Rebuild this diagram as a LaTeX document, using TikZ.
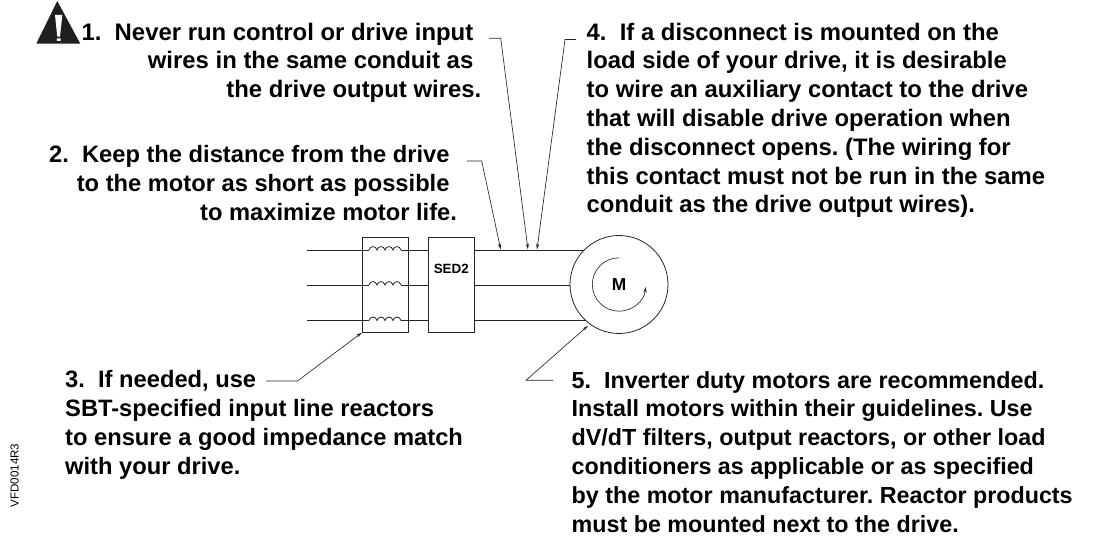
\documentclass[tikz,border=0pt]{standalone}
\usepackage{fontspec}
\setmainfont{Liberation Sans}
\usetikzlibrary{arrows.meta}
\frenchspacing
\tikzset{
  txt/.style={inner sep=0pt,font=\fontsize{#1}{28.8}\selectfont\bfseries},
  wire/.style={line width=0.8pt,black!85},
  box/.style={draw,line width=0.8pt,black!85,fill=none,inner sep=0pt},
  lead/.style={line width=0.65pt,black!85,-{Stealth[length=6pt,width=3.2pt]}}
}
\newcommand{\coilpath}[1]{(369,#1) .. controls (370,#1-4.5) and (376,#1-4.5) .. (377,#1) .. controls (378,#1-4.5) and (384,#1-4.5) .. (385,#1) .. controls (386,#1-4.5) and (392,#1-4.5) .. (393,#1) .. controls (394,#1-4.5) and (400,#1-4.5) .. (401,#1)}
\begin{document}
\begin{tikzpicture}[x=1pt,y=-1pt]
\useasboundingbox (0,0) rectangle (1095,537);
% warning triangle
\fill[black!88] (57.3,1) -- (36.3,43.7) -- (80.3,43.7) -- cycle;
\fill[white] (55,15) -- (62.3,15) -- (60,36.7) -- (57.3,36.7) -- cycle (56.8,38.3) rectangle (60.5,41);
% texts
\node[txt=23.9,align=right,anchor=north east] (t1) at (473.5,22.6) {1.\ \ Never run control or drive input\\wires in the same conduit as\\the drive output wires.\hspace*{-8pt}};
\node[txt=23.7,align=right,anchor=north east] (t2) at (449.7,145.6) {2.\ \ Keep the distance from the drive\\to the motor as short as possible\\to maximize motor life.\hspace*{-7.5pt}};
\node[txt=23.85,align=left,anchor=north west] (t4) at (586.5,22.6) {4.\ \ If a disconnect is mounted on the\\load side of your drive, it is desirable\\to wire an auxiliary contact to the drive\\that will disable drive operation when\\the disconnect opens. (The wiring for\\this contact must not be run in the same\\conduit as the drive output wires).};
\node[txt=23.7,align=left,anchor=north west] (t3) at (65,370.3) {3.\ \ If needed, use\\SBT-specified input line reactors\\to ensure a good impedance match\\with your drive.};
\node[txt=23.3,align=left,anchor=north west] (t5) at (571.5,371) {5.\ \ Inverter duty motors are recommended.\\Install motors within their guidelines. Use\\dV/dT filters, output reactors, or other load\\conditioners as applicable or as specified\\by the motor manufacturer. Reactor products\\must be mounted next to the drive.};
\node[rotate=90,inner sep=0pt,font=\fontsize{11.6}{13}\selectfont] (vfd) at (14.7,475.5) {VFD0014R3};
% boxes
\node[box,minimum width=46.5pt,minimum height=95pt] (rx) at (385.2,284.8) {};
\node[box,minimum width=46.5pt,minimum height=95pt] (sed) at (451.5,284.8) {};
\node[inner sep=0pt,font=\fontsize{13.4}{15}\selectfont\bfseries] (sedl) at (451.3,269.3) {SED2};
\node[circle,draw,line width=0.8pt,black!85,minimum size=98pt,inner sep=0pt] (m) at (619,284.5) {};
\node[inner sep=0pt,font=\fontsize{17.3}{19}\selectfont\bfseries] (ml) at (619,285) {M};
% wires
\foreach \y/\c in {250/a,285/b,320.5/c}{
  \coordinate (in\c) at (307,\y);
  \coordinate (rl\c) at (369,\y);
  \coordinate (rr\c) at (401,\y);
  \draw[wire] (in\c) -- (rl\c);
  \draw[wire] \coilpath{\y};
  \draw[wire] (rr\c) -- (sed.west |- rr\c);
  \coordinate (so\c) at (sed.east |- rr\c);
}
\coordinate (ma) at (584.2,250);
\coordinate (mb) at (570,285);
\coordinate (mc) at (585.8,320.5);
\draw[wire] (soa) -- (ma);
\draw[wire] (sob) -- (mb);
\draw[wire] (soc) -- (mc);
% rotation arrow
\draw[line width=0.65pt,black!85,-{Stealth[length=6pt,width=3.2pt]}] (m.center) ++(0,-26.7) arc[start angle=-90,end angle=-355,radius=26.7];
% leaders
\coordinate (l1a) at (489,38.3); \coordinate (l1b) at (500.7,38.3); \coordinate (e1) at (528,249.5);
\coordinate (l4a) at (576,39.5); \coordinate (l4b) at (565,39.5); \coordinate (e4) at (537,249.5);
\coordinate (l2a) at (467,161); \coordinate (l2b) at (481.7,161); \coordinate (e2) at (500.7,249.5);
\coordinate (l3a) at (266,381); \coordinate (l3b) at (297.5,381); \coordinate (e3) at (362,332.5);
\coordinate (l5a) at (553,380.3); \coordinate (l5b) at (526,380.3); \coordinate (e5) at (588,325.7);
\draw[lead] (l1a) -- (l1b) -- (e1);
\draw[lead] (l4a) -- (l4b) -- (e4);
\draw[lead] (l2a) -- (l2b) -- (e2);
\draw[lead] (l3a) -- (l3b) -- (e3);
\draw[lead] (l5a) -- (l5b) -- (e5);
\end{tikzpicture}
\end{document}
